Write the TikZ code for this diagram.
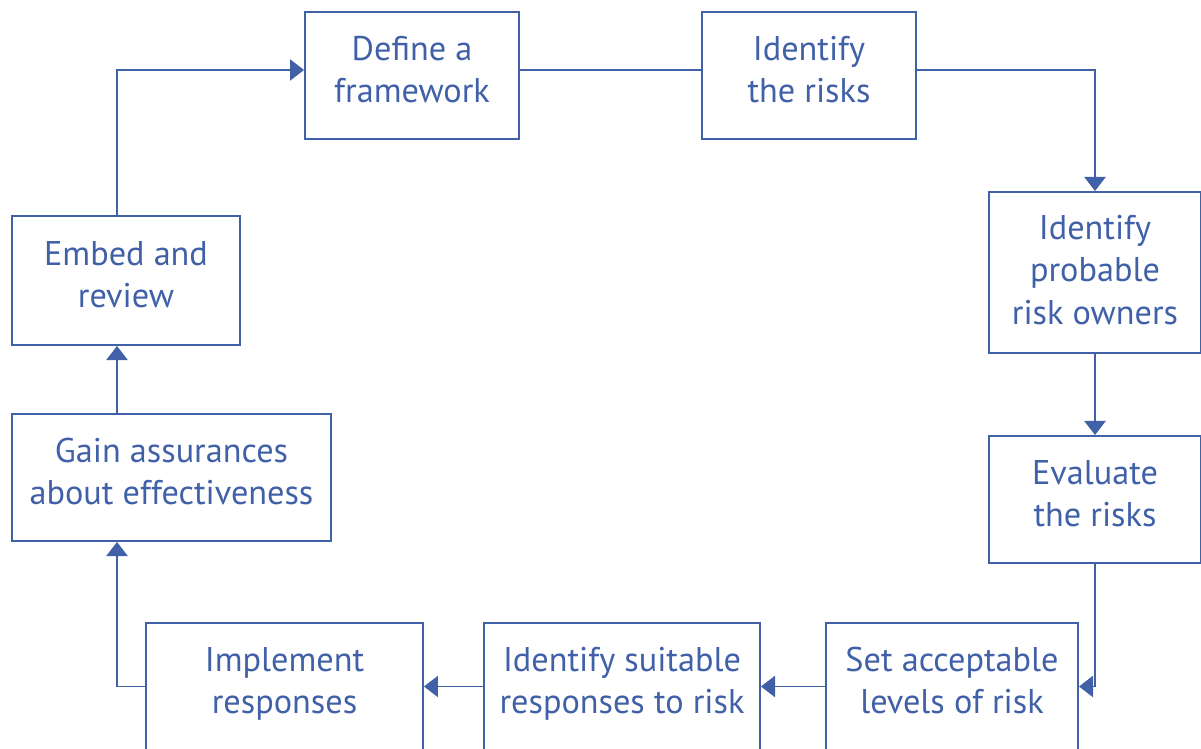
\documentclass[tikz,border=0pt]{standalone}
\usepackage{fontspec}
\setmainfont{PT Sans}
\usetikzlibrary{arrows.meta}
\definecolor{riskblue}{RGB}{64,96,168}

\begin{document}
\begin{tikzpicture}[x=0.02cm,y=-0.02cm,
	stepbox/.style={draw=riskblue,line width=1.1pt,text=riskblue,align=center,inner sep=0pt,
		font=\fontsize{19.5}{24}\selectfont,text depth=7pt,minimum height=2.54cm},
	link/.style={draw=riskblue,line width=1.1pt},
	arr/.style={link,-{Triangle[length=8pt,width=12pt]}}]
		\useasboundingbox (0,0) rectangle (1201,749);
		\node[stepbox,minimum width=4.28cm]							(frame)		at (412,75.5)	{Define a\\framework};
		\node[stepbox,minimum width=4.28cm]							(ident)		at (809,75.5)	{Identify\\the risks};
		\node[stepbox,minimum width=4.24cm,minimum height=3.22cm,text depth=3pt]	(owners)	at (1095,272.5)	{Identify\\probable\\risk owners};
		\node[stepbox,minimum width=4.24cm]							(eval)		at (1095,499.5)	{Evaluate\\the risks};
		\node[stepbox,minimum width=5.04cm]							(levels)	at (952,686.5)	{Set acceptable\\levels of risk};
		\node[stepbox,minimum width=5.52cm]							(suit)		at (622,686.5)	{Identify suitable\\responses to risk};
		\node[stepbox,minimum width=5.54cm]							(impl)		at (284.5,686.5){Implement\\responses};
		\node[stepbox,minimum width=6.38cm]							(gain)		at (171.5,477.5){Gain assurances\\about effectiveness};
		\node[stepbox,minimum width=4.56cm,minimum height=2.58cm]	(embed)		at (126,280.5)	{Embed and\\review};

		\draw[link] (frame.east |- 0,70) -- (ident.west |- 0,70);
		\draw[arr] (ident.east |- 0,70) -| (owners.north);
		\draw[arr] (owners) -- (eval);
		\draw[arr] (eval.south) |- (levels.east);
		\draw[arr] (levels) -- (suit);
		\draw[arr] (suit) -- (impl);
		\draw[arr] (impl.west) -| (gain.south -| 117,0);
		\draw[arr] (gain.north -| 117,0) -- (embed.south -| 117,0);
		\draw[arr] (embed.north -| 117,0) |- (frame.west |- 0,70);
	\end{tikzpicture}
\end{document}
